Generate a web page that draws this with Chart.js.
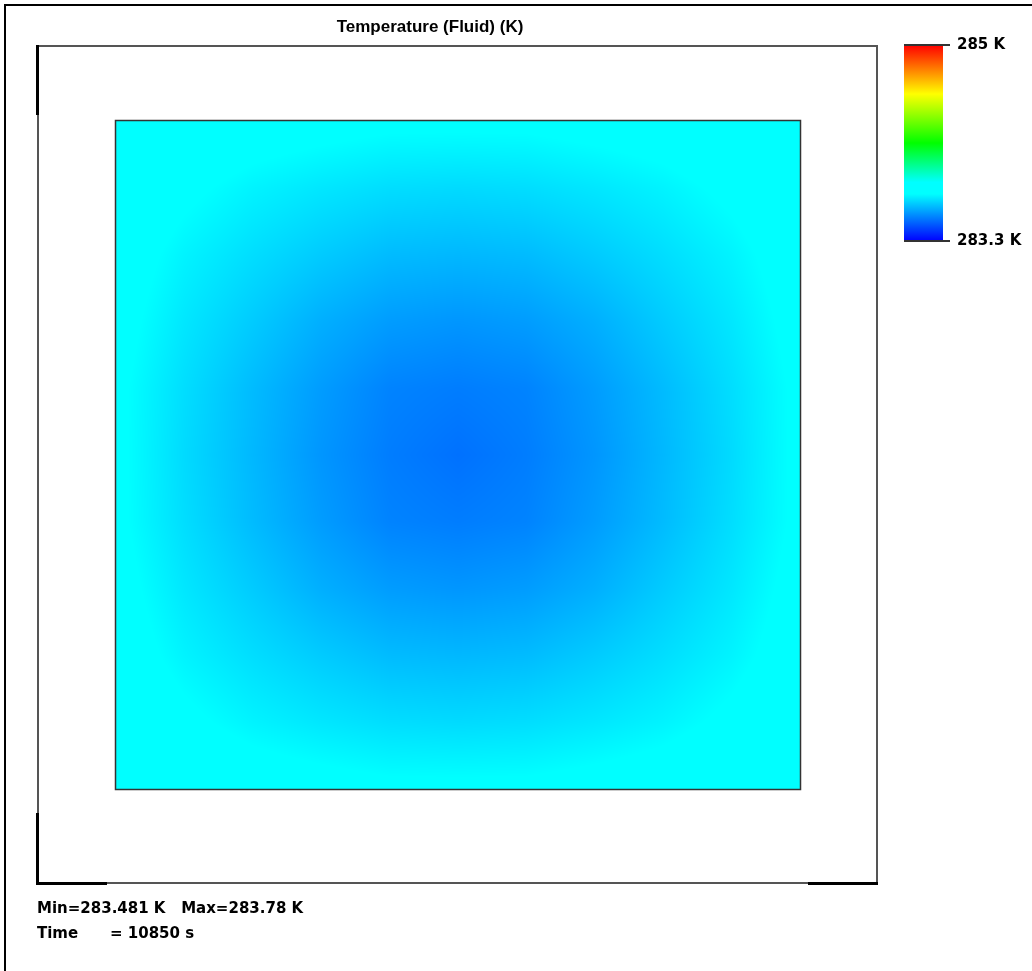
<!DOCTYPE html>
<html>
<head>
<meta charset="utf-8">
<title>Temperature (Fluid) (K)</title>
<script src="https://cdn.jsdelivr.net/npm/chart.js@4"></script>
<style>
html, body { margin: 0; padding: 0; background: #fff; }
canvas { display: block; }
</style>
</head>
<body>
<canvas id="fieldChart" width="1032" height="971"></canvas>
<script>
// node positions of the sampled grid (normalised domain 0..1)
var xNodes = [0, 0.1, 0.2, 0.3, 0.4, 0.5, 0.6, 0.7, 0.8, 0.9, 1];
var yNodes = [0, 0.1, 0.2, 0.3, 0.4, 0.5, 0.6, 0.7, 0.8, 0.9, 1];

// fluid temperature at the nodes in K, one row per yNode
var temps = [
    [283.78, 283.76, 283.74, 283.73, 283.72, 283.72, 283.72, 283.73, 283.74, 283.76, 283.78],
    [283.76, 283.72, 283.69, 283.67, 283.655, 283.65, 283.655, 283.67, 283.69, 283.72, 283.76],
    [283.74, 283.69, 283.655, 283.625, 283.60, 283.594, 283.60, 283.625, 283.655, 283.69, 283.74],
    [283.73, 283.67, 283.625, 283.58, 283.55, 283.54, 283.55, 283.58, 283.625, 283.67, 283.73],
    [283.72, 283.655, 283.60, 283.55, 283.51, 283.50, 283.51, 283.55, 283.60, 283.655, 283.72],
    [283.72, 283.65, 283.594, 283.54, 283.50, 283.481, 283.50, 283.54, 283.594, 283.65, 283.72],
    [283.72, 283.655, 283.60, 283.55, 283.51, 283.50, 283.51, 283.55, 283.60, 283.655, 283.72],
    [283.73, 283.67, 283.625, 283.58, 283.55, 283.54, 283.55, 283.58, 283.625, 283.67, 283.73],
    [283.74, 283.69, 283.655, 283.625, 283.60, 283.594, 283.60, 283.625, 283.655, 283.69, 283.74],
    [283.76, 283.72, 283.69, 283.67, 283.655, 283.65, 283.655, 283.67, 283.69, 283.72, 283.76],
    [283.78, 283.76, 283.74, 283.73, 283.72, 283.72, 283.72, 283.73, 283.74, 283.76, 283.78]
];

// colour scale
var scaleMin = 283.3;
var scaleMax = 285;
var scaleTicks = [285, 283.3];
var scaleTickLabels = ['285 K', '283.3 K'];
var stopPos = [0, 0.24, 0.30, 0.5, 0.75, 1];
var stopCol = [[0, 0, 255], [0, 255, 255], [0, 255, 255], [0, 255, 0], [255, 255, 0], [255, 0, 0]];

// texts
var titleText = 'Temperature (Fluid) (K)';
var rangeText = 'Min=283.481 K   Max=283.78 K';
var timeLabel = 'Time';
var timeValue = '= 10850 s';

function colorFor(v) {
    var t = (v - scaleMin) / (scaleMax - scaleMin);
    t = Math.max(0, Math.min(1, t));
    for (var i = 1; i < stopPos.length; i++) {
        if (t <= stopPos[i]) {
            var f = (t - stopPos[i - 1]) / (stopPos[i] - stopPos[i - 1]);
            var a = stopCol[i - 1], b = stopCol[i];
            return [a[0] + (b[0] - a[0]) * f, a[1] + (b[1] - a[1]) * f, a[2] + (b[2] - a[2]) * f];
        }
    }
    return stopCol[stopCol.length - 1];
}

function findCell(nodes, v) {
    for (var i = 0; i < nodes.length - 2; i++) {
        if (v < nodes[i + 1]) return i;
    }
    return nodes.length - 2;
}

// bilinear value between grid nodes
function valueAt(x, y) {
    var i = findCell(xNodes, x), j = findCell(yNodes, y);
    var fx = (x - xNodes[i]) / (xNodes[i + 1] - xNodes[i]);
    var fy = (y - yNodes[j]) / (yNodes[j + 1] - yNodes[j]);
    fx = Math.max(0, Math.min(1, fx));
    fy = Math.max(0, Math.min(1, fy));
    var a = temps[j][i] * (1 - fx) + temps[j][i + 1] * fx;
    var b = temps[j + 1][i] * (1 - fx) + temps[j + 1][i + 1] * fx;
    return a * (1 - fy) + b * fy;
}

// draws the temperature field inside the chart area, using the chart scales
var fieldPlugin = {
    id: 'field',
    beforeDatasetsDraw: function(chart) {
        var ctx = chart.ctx, area = chart.chartArea;
        var xs = chart.scales.x, ys = chart.scales.y;
        var w = Math.round(area.right - area.left), h = Math.round(area.bottom - area.top);
        var off = document.createElement('canvas');
        off.width = w; off.height = h;
        var octx = off.getContext('2d');
        var img = octx.createImageData(w, h);
        for (var py = 0; py < h; py++) {
            var yv = ys.getValueForPixel(area.top + py + 0.5);
            for (var px = 0; px < w; px++) {
                var xv = xs.getValueForPixel(area.left + px + 0.5);
                var c = colorFor(valueAt(xv, yv));
                var k = (py * w + px) * 4;
                img.data[k] = c[0]; img.data[k + 1] = c[1]; img.data[k + 2] = c[2]; img.data[k + 3] = 255;
            }
        }
        octx.putImageData(img, 0, 0);
        ctx.drawImage(off, area.left, area.top);
    }
};

// frames, title, colour bar and footer texts
var decorPlugin = {
    id: 'decor',
    afterDraw: function(chart) {
        var ctx = chart.ctx, area = chart.chartArea;
        ctx.save();

        // window border
        ctx.fillStyle = '#000';
        ctx.fillRect(4, 4, 1028, 2);
        ctx.fillRect(4, 4, 2, 967);

        // outer frame
        ctx.strokeStyle = '#555';
        ctx.lineWidth = 2;
        ctx.strokeRect(38, 46, 839, 837);
        ctx.fillStyle = '#000';
        ctx.fillRect(36, 45, 3, 70);
        ctx.fillRect(36, 813, 3, 71);
        ctx.fillRect(36, 882, 71, 3);
        ctx.fillRect(808, 882, 70, 3);

        // plot border
        ctx.strokeStyle = '#333';
        ctx.lineWidth = 1.5;
        ctx.strokeRect(area.left - 0.5, area.top - 0.5, area.right - area.left + 1, area.bottom - area.top + 1);

        // title
        ctx.fillStyle = '#000';
        ctx.font = 'bold 17px "Liberation Sans", Arial, sans-serif';
        ctx.textAlign = 'center';
        ctx.textBaseline = 'middle';
        ctx.fillText(titleText, 430, 27);

        // colour bar
        var barL = 904, barR = 943, barT = 45, barB = 241;
        var grad = ctx.createLinearGradient(0, barB, 0, barT);
        for (var i = 0; i < stopPos.length; i++) {
            var c = stopCol[i];
            grad.addColorStop(stopPos[i], 'rgb(' + c[0] + ',' + c[1] + ',' + c[2] + ')');
        }
        ctx.fillStyle = grad;
        ctx.fillRect(barL, barT, barR - barL, barB - barT);

        ctx.strokeStyle = '#333';
        ctx.lineWidth = 2;
        ctx.font = 'bold 15px "DejaVu Sans", sans-serif';
        ctx.textAlign = 'left';
        ctx.fillStyle = '#000';
        for (var t = 0; t < scaleTicks.length; t++) {
            var y = barB - (scaleTicks[t] - scaleMin) / (scaleMax - scaleMin) * (barB - barT);
            ctx.beginPath();
            ctx.moveTo(barL, y);
            ctx.lineTo(950, y);
            ctx.stroke();
            ctx.fillText(scaleTickLabels[t], 957, y);
        }

        // footer
        ctx.textBaseline = 'middle';
        ctx.fillText(rangeText, 37, 909);
        ctx.fillText(timeLabel, 37, 934);
        ctx.fillText(timeValue, 110, 934);

        ctx.restore();
    }
};

document.addEventListener('DOMContentLoaded', function() {
    var nodePoints = [];
    for (var j = 0; j < yNodes.length; j++) {
        for (var i = 0; i < xNodes.length; i++) {
            nodePoints.push({ x: xNodes[i], y: yNodes[j], t: temps[j][i] });
        }
    }

    var ctx = document.getElementById('fieldChart').getContext('2d');
    new Chart(ctx, {
        type: 'scatter',
        data: {
            datasets: [{
                label: 'Temperature (Fluid)',
                data: nodePoints,
                pointRadius: 0,
                pointHoverRadius: 0
            }]
        },
        options: {
            responsive: false,
            animation: false,
            events: [],
            layout: { padding: { left: 116, top: 121, right: 232, bottom: 182 } },
            scales: {
                x: { type: 'linear', min: 0, max: 1, display: false },
                y: { type: 'linear', min: 0, max: 1, display: false }
            },
            plugins: {
                legend: { display: false },
                tooltip: { enabled: false }
            }
        },
        plugins: [fieldPlugin, decorPlugin]
    });
});
</script>
</body>
</html>
